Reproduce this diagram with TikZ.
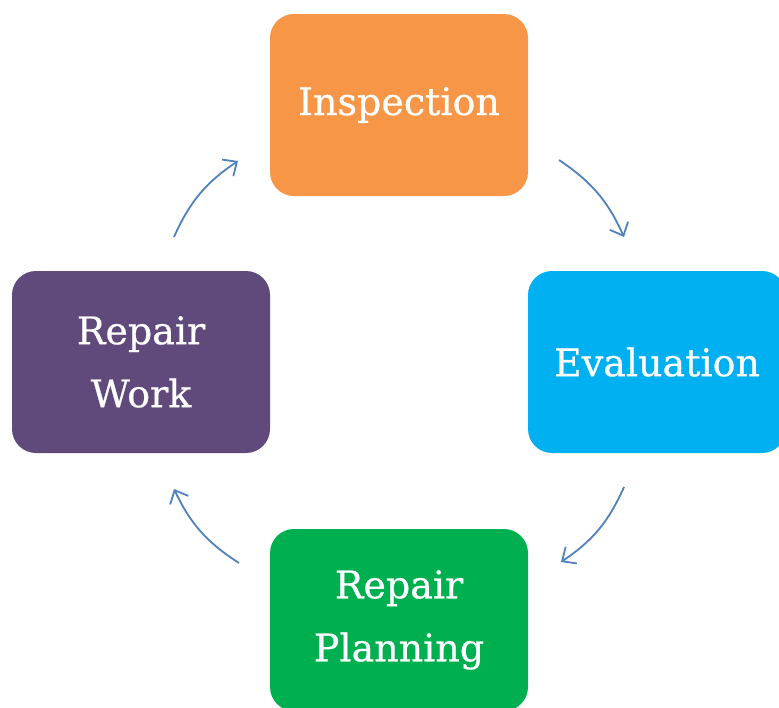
\documentclass[tikz,border=0pt]{standalone}
\usepackage{fontspec}
\setmainfont{DejaVu Serif}
\newfontfamily\boxfont[FakeBold=0.6]{DejaVu Serif}
\usepackage{tikz}
\usetikzlibrary{arrows.meta}
\definecolor{inspcol}{HTML}{F79646}
\definecolor{evalcol}{HTML}{00B0F0}
\definecolor{plancol}{HTML}{00B050}
\definecolor{workcol}{HTML}{604A7B}
\definecolor{arrowcol}{HTML}{4F81BD}
\tikzstyle{stagebox} = [rounded corners=24pt, minimum width=258pt, minimum height=182pt,
  text=white, align=center, font=\boxfont\fontsize{38}{63}\selectfont, inner sep=0pt]
\tikzstyle{cyclearrow} = [draw=arrowcol, line width=1.8pt, -{Straight Barb[length=11pt,width=20pt]}, bend left=16]

\begin{document}
\begin{tikzpicture}[x=1pt, y=-1pt]
    \useasboundingbox (0,0) rectangle (779,707);

    \node[stagebox, fill=inspcol] (insp) at (399,105) {Inspection};
    \node[stagebox, fill=evalcol] (eval) at (657,362) {Evaluation};
    \node[stagebox, fill=plancol] (plan) at (399,620) {Repair\\Planning};
    \node[stagebox, fill=workcol] (work) at (141,362) {Repair\\Work};

    % free ends of the cycle arrows
    \coordinate (a1) at (559,160);
    \coordinate (b1) at (624,237);
    \coordinate (a2) at (624,487);
    \coordinate (b2) at (561,562);
    \coordinate (a3) at (239,563);
    \coordinate (b3) at (174,489);
    \coordinate (a4) at (174,237);
    \coordinate (b4) at (238,161);

    \draw[cyclearrow] (a1) to (b1);
    \draw[cyclearrow] (a2) to (b2);
    \draw[cyclearrow] (a3) to (b3);
    \draw[cyclearrow] (a4) to (b4);
\end{tikzpicture}
\end{document}
